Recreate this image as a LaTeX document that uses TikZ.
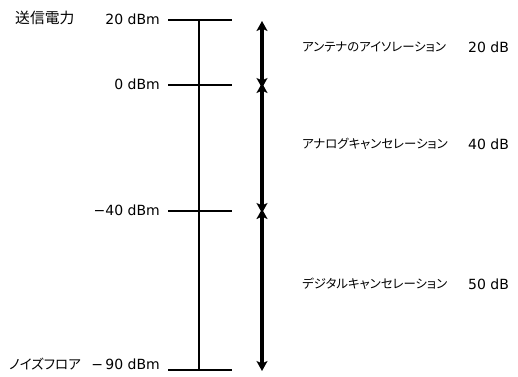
\documentclass[tikz,border=0pt]{standalone}
\usepackage{fontspec}
\setmainfont{DejaVu Sans}
\newfontfamily\jp{Noto Sans CJK JP}[RawFeature=+palt]
\usetikzlibrary{arrows.meta}
\begin{document}
\begin{tikzpicture}[x=1pt,y=-1pt,
  tick/.style={line width=2.2pt},
  axis/.style={line width=2.2pt},
  span/.style={line width=3.4pt,
    {Stealth[length=10pt,width=11pt,inset=2.5pt]}-{Stealth[length=10pt,width=11pt,inset=2.5pt]}},
  lvl/.style={anchor=east,font=\fontsize{14}{16}\selectfont,inner sep=0pt},
  jlab/.style={anchor=west,font=\jp\fontsize{12.4}{16}\selectfont,inner sep=0pt},
  db/.style={anchor=west,font=\fontsize{14}{16}\selectfont,inner sep=0pt}]
\useasboundingbox (0,0) rectangle (518,376);

% level ticks
\coordinate (t0l) at (168,20);  \coordinate (t0r) at (232,20);
\coordinate (t1l) at (168,85);  \coordinate (t1r) at (232,85);
\coordinate (t2l) at (168,211); \coordinate (t2r) at (232,211);
\coordinate (t3l) at (168,370); \coordinate (t3r) at (232,370);
\draw[tick] (t0l) -- (t0r);
\draw[tick] (t1l) -- (t1r);
\draw[tick] (t2l) -- (t2r);
\draw[tick] (t3l) -- (t3r);

% vertical axis
\coordinate (ax0) at (199,20);
\coordinate (ax1) at (199,370);
\draw[axis] (ax0) -- (ax1);

% level labels
\node[lvl] (l0) at (160,19) {20 dBm};
\node[lvl] (l1) at (160,84) {0 dBm};
\node[lvl] (l2) at (160,210) {−40 dBm};
\node[lvl] (l3) at (160,364) {−\,90 dBm};
\node[anchor=west,font=\jp\fontsize{14.8}{16}\selectfont,inner sep=0pt] (tx) at (15,18) {送信電力};
\node[anchor=west,font=\jp\fontsize{13.5}{16}\selectfont,inner sep=0pt] (nf) at (9,364) {ノイズフロア};

% attenuation spans; neighbouring tips cross slightly at each level
\coordinate (a0) at (262,21);
\coordinate (a1u) at (262,88);
\coordinate (a1l) at (262,83);
\coordinate (a2u) at (262,213);
\coordinate (a2l) at (262,209);
\coordinate (a3) at (262,371);
\draw[span] (a0) -- (a1u);
\draw[span] (a1l) -- (a2u);
\draw[span] (a2l) -- (a3);

% span labels
\node[jlab] (s1) at (302,47) {アンテナのアイソレーション};
\node[jlab] (s2) at (302,144) {アナログキャンセレーション};
\node[jlab] (s3) at (302,284) {デジタルキャンセレーション};
\node[db] (d1) at (468,47) {20 dB};
\node[db] (d2) at (468,144) {40 dB};
\node[db] (d3) at (468,284) {50 dB};
\end{tikzpicture}
\end{document}
